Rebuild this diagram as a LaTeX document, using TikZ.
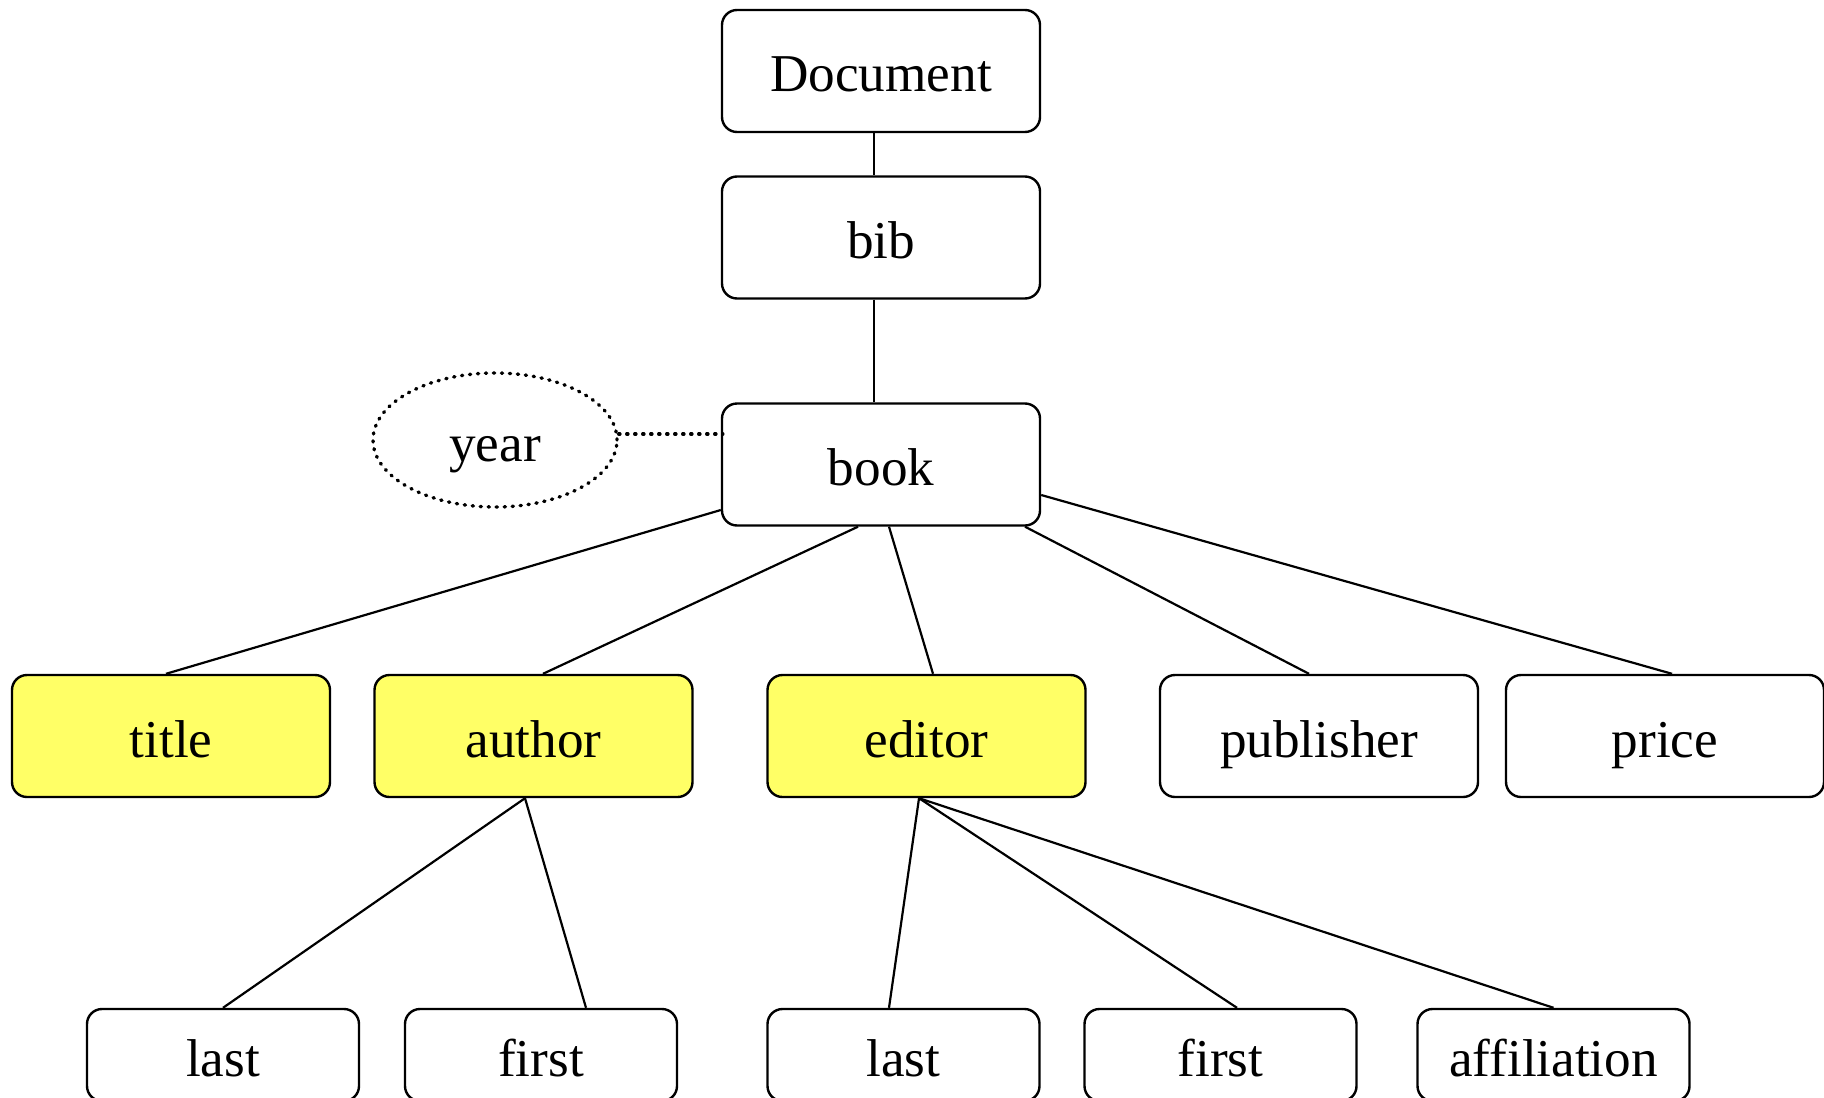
\documentclass[tikz,border=0pt]{standalone}
\usepackage{fontspec}
\setmainfont{Liberation Serif}
\usetikzlibrary{shapes.geometric,calc}
\definecolor{hl}{HTML}{FFFF66}
\tikzset{
  lbl/.style={font=\fontsize{26.6}{30}\selectfont, text height=21pt, text depth=0pt, inner sep=0pt},
  box/.style={lbl, draw, line width=1.2pt, rounded corners=7.5pt, minimum width=159pt, minimum height=61pt},
  sbox/.style={box, minimum width=136pt, minimum height=46pt},
  hlbox/.style={box, fill=hl},
  dotline/.style={line width=1.7pt, line cap=round, dash pattern=on 0.6pt off 3.4pt},
  edge/.style={line width=1.1pt},
  thinedge/.style={line width=0.7pt}
}
\begin{document}
\begin{tikzpicture}[x=0.5pt,y=-0.5pt]
\useasboundingbox (0,0) rectangle (1824,1097);
\clip (0,0) rectangle (1824,1097);
\node[box] (Document) at (881,71) {Document};
\node[box] (bib) at (881,237.5) {bib};
\node[box] (book) at (881,464.5) {book};
\node[lbl, ellipse, draw, dotline, minimum width=122pt, minimum height=67pt] (year) at (495,440) {year};
\node[hlbox] (title) at (171,736) {title};
\node[hlbox] (author) at (533.5,736) {author};
\node[hlbox] (editor) at (926.5,736) {editor};
\node[box] (publisher) at (1319,736) {publisher};
\node[box] (price) at (1665,736) {price};
\node[sbox] (last1) at (223,1055) {last};
\node[sbox] (first1) at (541,1055) {first};
\node[sbox] (last2) at (903.5,1055) {last};
\node[sbox] (first2) at (1220.5,1055) {first};
\node[sbox] (affiliation) at (1553.5,1055) {affiliation};
% edges
\draw[thinedge] ($(Document.south)+(-7,0)$) -- ($(bib.north)+(-7,0)$);
\draw[edge] ($(bib.south)+(-7,0)$) -- ($(book.north)+(-7,0)$);
\coordinate (yr) at ($(year.east)+(0,-6)$);
\draw[dotline] (yr) -- ($(yr -| book.west)+(2,0)$);
\draw[edge] ($(book.west)+(0,45.5)$) -- ($(title.north)+(-5,0)$);
\draw[edge] ($(book.south)+(-23,0)$) -- ($(author.north)+(9.5,0)$);
\draw[edge] ($(book.south)+(8,0)$) -- ($(editor.north)+(6.5,0)$);
\draw[edge] ($(book.south)+(144,0)$) -- ($(publisher.north)+(-10,0)$);
\draw[edge] ($(book.east)+(0,30.5)$) -- ($(price.north)+(7,0)$);
\draw[edge] ($(author.south)+(-8.5,0)$) -- (last1.north);
\draw[edge] ($(author.south)+(-8.5,0)$) -- ($(first1.north)+(45,0)$);
\draw[edge] ($(editor.south)+(-7.5,0)$) -- ($(last2.north)+(-14.5,0)$);
\draw[edge] ($(editor.south)+(-7.5,0)$) -- ($(first2.north)+(16.5,0)$);
\draw[edge] ($(editor.south)+(-7.5,0)$) -- (affiliation.north);
\end{tikzpicture}
\end{document}
